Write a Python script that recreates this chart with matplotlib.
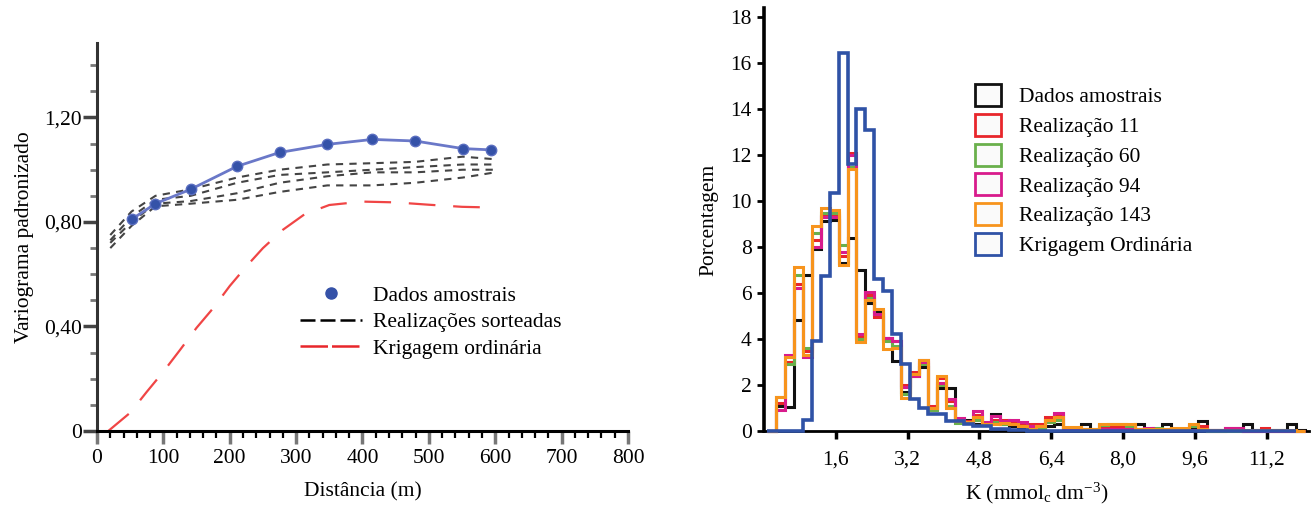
import numpy as np
import matplotlib
matplotlib.use("Agg")
import matplotlib.pyplot as plt
from matplotlib.lines import Line2D
from matplotlib.patches import Patch

plt.rcParams['font.family'] = ['Liberation Serif', 'DejaVu Serif']
plt.rcParams['mathtext.fontset'] = 'custom'
plt.rcParams['mathtext.rm'] = 'Liberation Serif'
plt.rcParams['mathtext.it'] = 'Liberation Serif:italic'

# ---- left panel: variograms ----
dist_amostral = [52, 88, 141, 211, 275, 347, 415, 479, 551, 593]
gama_amostral = [0.81, 0.87, 0.925, 1.013, 1.066, 1.097, 1.116, 1.11, 1.081, 1.076]

dist_real = [20, 52, 88, 141, 211, 275, 347, 415, 479, 551, 600]
real_a = [0.75, 0.84, 0.90, 0.925, 0.97, 1.00, 1.02, 1.025, 1.03, 1.05, 1.04]
real_b = [0.73, 0.82, 0.885, 0.90, 0.95, 0.98, 0.99, 1.00, 1.01, 1.02, 1.02]
real_c = [0.72, 0.80, 0.87, 0.88, 0.91, 0.95, 0.975, 0.99, 0.99, 1.00, 1.00]
real_d = [0.70, 0.785, 0.86, 0.87, 0.885, 0.915, 0.94, 0.94, 0.95, 0.97, 0.99]

dist_krig = [17, 50, 75, 100, 125, 150, 175, 200, 225, 250, 280, 313, 350, 400, 450, 500, 550, 600]
gama_krig = [0.0, 0.07, 0.15, 0.227, 0.31, 0.395, 0.47, 0.555, 0.63, 0.70, 0.77, 0.83,
             0.865, 0.878, 0.875, 0.866, 0.858, 0.855]

y_ticks_left = [0, 0.4, 0.8, 1.2]
y_labels_left = ['0', '0,40', '0,80', '1,20']
x_ticks_left = [0, 100, 200, 300, 400, 500, 600, 700, 800]

# ---- right panel: histograms of K (percent per 0.2 class, first class starts at 0.06) ----
bin_start = 0.06
bin_width = 0.2
dados = [0, 1.1, 1.05, 4.85, 6.8, 7.9, 9.15, 9.2, 7.3, 8.4, 7.0, 5.55, 5.2, 4.05, 3.05, 1.7,
         2.5, 2.8, 1.0, 1.85, 1.85, 0.5, 0.5, 0.3, 0.3, 0.75, 0.3, 0.2, 0.1,
         0.1, 0.1, 0.2, 0.3, 0.1, 0.05, 0.3, 0.05, 0.1, 0.1, 0.1, 0.1, 0.3, 0.05, 0.05, 0.3,
         0.05, 0.05, 0.1, 0.43, 0.05, 0.05, 0.05, 0.05, 0.3, 0.05, 0.05, 0.05, 0.05, 0.3, 0.03]
real_11 = [0, 1.2, 3.0, 6.4, 3.5, 8.3, 9.35, 9.4, 7.6, 12.1, 4.1, 5.9, 4.95, 4.0, 3.9, 2.0,
           2.55, 3.1, 1.1, 2.3, 1.3, 0.5, 0.45, 0.7, 0.35, 0.5, 0.5, 0.45, 0.3,
           0.32, 0.32, 0.6, 0.75, 0.1, 0.1, 0.1, 0.05, 0.2, 0.2, 0.2, 0.2, 0.05, 0.1, 0.05, 0.05,
           0.05, 0.1, 0.25, 0.2, 0, 0, 0.15, 0.15, 0, 0, 0.15, 0, 0, 0, 0]
real_60 = [0, 1.5, 2.9, 6.8, 3.6, 8.6, 9.5, 9.5, 8.1, 11.5, 4.0, 5.8, 5.1, 3.9, 3.7, 1.6,
           2.4, 2.9, 0.9, 2.0, 1.1, 0.35, 0.4, 0.5, 0.3, 0.4, 0.3, 0.3, 0.2,
           0.1, 0.15, 0.4, 0.5, 0.1, 0.1, 0.1, 0.1, 0.25, 0.3, 0.3, 0.2, 0.1, 0.1, 0.15, 0.05,
           0.05, 0.05, 0.2, 0.1, 0, 0, 0, 0, 0, 0, 0, 0, 0, 0, 0]
real_94 = [0, 0.9, 3.3, 6.2, 3.2, 8.0, 9.3, 9.3, 7.8, 12.0, 4.2, 6.05, 5.1, 4.05, 3.9, 1.9,
           2.4, 3.0, 1.0, 2.1, 1.4, 0.55, 0.4, 0.85, 0.4, 0.65, 0.45, 0.5, 0.4,
           0.2, 0.2, 0.5, 0.8, 0.1, 0.1, 0.05, 0.05, 0.1, 0.1, 0.1, 0.1, 0.1, 0.15, 0.05, 0.05,
           0.05, 0.05, 0.05, 0.05, 0.05, 0.05, 0.15, 0.15, 0, 0, 0, 0, 0, 0, 0]
real_143 = [0, 1.5, 3.2, 7.15, 3.3, 8.9, 9.7, 9.6, 7.2, 11.4, 3.85, 5.7, 5.3, 3.55, 3.6, 1.45,
            2.5, 3.1, 1.0, 2.4, 1.0, 0.45, 0.4, 0.6, 0.3, 0.3, 0.35, 0.3, 0.2,
            0.1, 0.2, 0.5, 0.6, 0.17, 0.17, 0.1, 0.1, 0.3, 0.3, 0.3, 0.3, 0.1, 0.1, 0.1, 0.1,
            0.15, 0.15, 0.3, 0.1, 0.05, 0.05, 0.05, 0.05, 0.05, 0.05, 0.05, 0.05, 0.05, 0.05, 0]
krigagem = [0, 0, 0, 0, 0.5, 3.9, 6.75, 10.35, 16.45, 11.6, 14.0, 13.1, 6.6, 6.1, 4.2, 2.9,
            1.4, 1.0, 0.75, 0.75, 0.45, 0.45, 0.3, 0.2, 0.2, 0.1, 0.1, 0.05, 0.05,
            0, 0, 0, 0, 0, 0, 0, 0, 0, 0, 0, 0, 0, 0, 0, 0,
            0, 0, 0, 0, 0, 0, 0, 0, 0, 0, 0, 0, 0, 0]

hist_series = [
    ('Dados amostrais', dados, '#111111'),
    ('Realização 11', real_11, '#e8262b'),
    ('Realização 60', real_60, '#6ab04c'),
    ('Realização 94', real_94, '#d81b8c'),
    ('Realização 143', real_143, '#f7941d'),
    ('Krigagem Ordinária', krigagem, '#2f52a6'),
]

x_ticks_right = [1.6, 3.2, 4.8, 6.4, 8.0, 9.6, 11.2]
x_labels_right = ['1,6', '3,2', '4,8', '6,4', '8,0', '9,6', '11,2']
y_ticks_right = [0, 2, 4, 6, 8, 10, 12, 14, 16, 18]

FS = 15.5

fig = plt.figure(figsize=(13.11, 5.05), dpi=100)
ax1 = fig.add_axes([97 / 1311, 74 / 505, 531 / 1311, 388 / 505])
ax2 = fig.add_axes([764 / 1311, 74 / 505, 545 / 1311, 423 / 505])

# left panel
for r in [real_a, real_b, real_c, real_d]:
    ax1.plot(dist_real, r, color='#444444', lw=1.5, linestyle=(0, (3.5, 3)))
ax1.plot(dist_krig, gama_krig, color='#f04545', lw=1.6, linestyle=(0, (12, 8)))
ax1.plot(dist_amostral, gama_amostral, color='#6a78c8', lw=2, marker='o',
         markersize=7.5, markerfacecolor='#3552a8', markeredgecolor='#5a6ec0', zorder=5)

ax1.set_xlim(0, 800)
ax1.set_ylim(0, 1.485)
ax1.set_xticks(x_ticks_left)
ax1.set_xticks(np.arange(0, 801, 20), minor=True)
ax1.set_yticks(y_ticks_left)
ax1.set_yticklabels(y_labels_left)
ax1.set_yticks(np.arange(0, 1.45, 0.1), minor=True)
ax1.tick_params(axis='x', which='major', length=9, width=2.5, color='#777777',
                labelsize=FS, pad=4)
ax1.tick_params(axis='x', which='minor', length=5, width=1.6, color='black')
ax1.tick_params(axis='y', which='major', length=10, width=2.5, color='#444444',
                labelsize=FS, pad=1)
ax1.tick_params(axis='y', which='minor', length=5, width=2, color='#777777')
for s in ['top', 'right']:
    ax1.spines[s].set_visible(False)
ax1.spines['left'].set_color('#333333')
ax1.spines['left'].set_linewidth(2.2)
ax1.spines['bottom'].set_color('black')
ax1.spines['bottom'].set_linewidth(2.2)
ax1.set_xlabel('Distância (m)', fontsize=FS, labelpad=10)
ax1.set_ylabel('Variograma padronizado', fontsize=FS, labelpad=7)

left_handles = [
    Line2D([], [], marker='o', color='#3552a8', linestyle='none', markersize=8),
    Line2D([], [], color='black', lw=1.8, linestyle=(0, (6, 2))),
    Line2D([], [], color='#e8262b', lw=1.8, linestyle=(0, (11, 1.6))),
]
ax1.legend(left_handles, ['Dados amostrais', 'Realizações sorteadas', 'Krigagem ordinária'],
           loc='upper left', bbox_to_anchor=(0.382, 0.375), frameon=False,
           fontsize=FS, handlelength=2.9, handletextpad=0.5, labelspacing=0.3,
           borderpad=0, borderaxespad=0)

# right panel
for i, (name, vals, col) in enumerate(hist_series):
    edges = bin_start + bin_width * np.arange(len(vals) + 1)
    ax2.stairs(vals, edges, color=col, lw=2.6 if col == '#2f52a6' else 2.2,
               zorder=2 + i, clip_on=False)

ax2.set_xlim(0, 12.14)
ax2.set_ylim(0, 18.4)
ax2.set_xticks(x_ticks_right)
ax2.set_xticklabels(x_labels_right)
ax2.set_yticks(y_ticks_right)
ax2.tick_params(axis='x', length=6, width=2.5, color='black', labelsize=FS, pad=8)
ax2.tick_params(axis='y', length=5, width=2, color='black', labelsize=FS, pad=4)
for s in ['top', 'right']:
    ax2.spines[s].set_visible(False)
ax2.spines['left'].set_linewidth(2.6)
ax2.spines['left'].set_color('black')
ax2.spines['bottom'].set_linewidth(2)
ax2.set_xlabel(r'K (mmol$_{\mathrm{c}}$ dm$^{-3}$)', fontsize=FS, labelpad=8)
ax2.set_ylabel('Porcentagem', fontsize=FS, labelpad=8)

right_handles = [Patch(facecolor='#fafafa', edgecolor=col, linewidth=2)
                 for _, _, col in hist_series]
ax2.legend(right_handles, [n for n, _, _ in hist_series],
           loc='upper left', bbox_to_anchor=(0.387, 0.82), frameon=False,
           fontsize=FS, handlelength=1.2, handleheight=1.2, handletextpad=0.85,
           labelspacing=0.3, borderpad=0, borderaxespad=0)

fig.savefig('out.png', dpi=100)
